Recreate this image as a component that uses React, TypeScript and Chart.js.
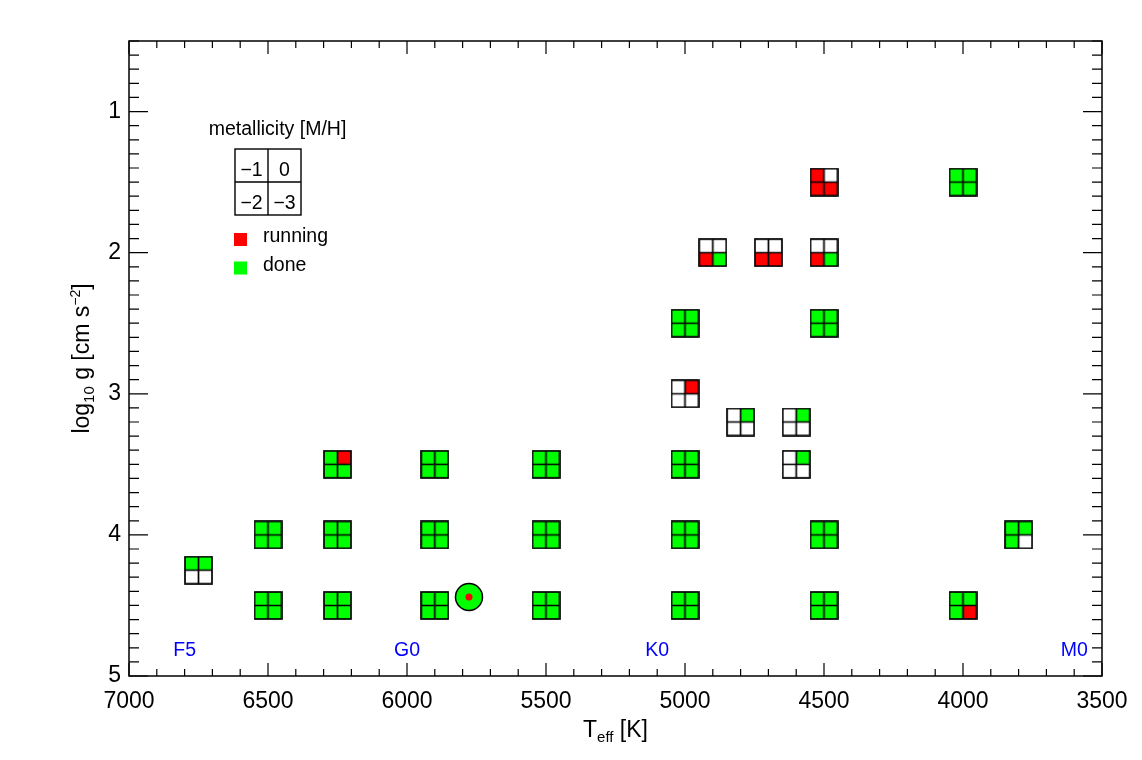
import React, { useEffect, useRef } from 'react';
import { Chart, registerables } from 'chart.js';

Chart.register(...registerables);

// ---- model grid (Teff [K], log g) ----
const teff = [4500, 4000, 4900, 4700, 4500, 5000, 4500, 5000, 4800, 4600, 6250, 5900, 5500, 5000, 4600, 6500, 6250, 5900, 5500, 5000, 4500, 3800, 6750, 6500, 6250, 5900, 5500, 5000, 4500, 4000];
const logg = [1.5, 1.5, 2.0, 2.0, 2.0, 2.5, 2.5, 3.0, 3.2, 3.2, 3.5, 3.5, 3.5, 3.5, 3.5, 4.0, 4.0, 4.0, 4.0, 4.0, 4.0, 4.0, 4.25, 4.5, 4.5, 4.5, 4.5, 4.5, 4.5, 4.5];
// status per metallicity: r = running, d = done, n = not started
const statusMm1 = ['r', 'd', 'n', 'n', 'n', 'd', 'd', 'n', 'n', 'n', 'd', 'd', 'd', 'd', 'n', 'd', 'd', 'd', 'd', 'd', 'd', 'd', 'd', 'd', 'd', 'd', 'd', 'd', 'd', 'd'];
const statusM0 = ['n', 'd', 'n', 'n', 'n', 'd', 'd', 'r', 'd', 'd', 'r', 'd', 'd', 'd', 'd', 'd', 'd', 'd', 'd', 'd', 'd', 'd', 'd', 'd', 'd', 'd', 'd', 'd', 'd', 'd'];
const statusMm2 = ['r', 'd', 'r', 'r', 'r', 'd', 'd', 'n', 'n', 'n', 'd', 'd', 'd', 'd', 'n', 'd', 'd', 'd', 'd', 'd', 'd', 'd', 'n', 'd', 'd', 'd', 'd', 'd', 'd', 'd'];
const statusMm3 = ['r', 'd', 'd', 'r', 'd', 'd', 'd', 'n', 'n', 'n', 'd', 'd', 'd', 'd', 'n', 'd', 'd', 'd', 'd', 'd', 'd', 'n', 'n', 'd', 'd', 'd', 'd', 'd', 'd', 'r'];

// the Sun
const sunTeff = [5777];
const sunLogg = [4.44];

// axes
const xTicks = [7000, 6500, 6000, 5500, 5000, 4500, 4000, 3500];
const yTicks = [1, 2, 3, 4, 5];
const xRange = [3500, 7000];
const yRange = [0.5, 5];

// spectral type annotations
const specTypes = ['F5', 'G0', 'K0', 'M0'];
const specTeff = [6800, 6000, 5100, 3600];

// legend
const metalLabels = ['\u22121', '0', '\u22122', '\u22123'];
const legendItems = ['running', 'done'];

const COLORS: Record<string, string> = { r: '#ff0000', d: '#00ff00', n: '#ffffff' };
const FONT = '"Liberation Sans", Arial, Helvetica, sans-serif';

function makeMarker(tl: string, tr: string, bl: string, br: string) {
  const c = document.createElement('canvas');
  c.width = 29;
  c.height = 29;
  const ctx = c.getContext('2d')!;
  const o = 1;
  const s = 27;
  const h = 13.5;
  ctx.fillStyle = COLORS[tl];
  ctx.fillRect(o, o, h, h);
  ctx.fillStyle = COLORS[tr];
  ctx.fillRect(o + h, o, h, h);
  ctx.fillStyle = COLORS[bl];
  ctx.fillRect(o, o + h, h, h);
  ctx.fillStyle = COLORS[br];
  ctx.fillRect(o + h, o + h, h, h);
  ctx.strokeStyle = '#000';
  ctx.lineWidth = 1.7;
  ctx.strokeRect(o, o, s, s);
  ctx.beginPath();
  ctx.moveTo(o + h, o);
  ctx.lineTo(o + h, o + s);
  ctx.moveTo(o, o + h);
  ctx.lineTo(o + s, o + h);
  ctx.stroke();
  return c;
}

function drawParts(ctx: CanvasRenderingContext2D, parts: { t: string; size: number; dy: number }[], cx: number, cy: number) {
  let total = 0;
  for (const p of parts) {
    ctx.font = `${p.size}px ${FONT}`;
    total += ctx.measureText(p.t).width;
  }
  let x = cx - total / 2;
  ctx.textAlign = 'left';
  ctx.textBaseline = 'alphabetic';
  for (const p of parts) {
    ctx.font = `${p.size}px ${FONT}`;
    ctx.fillText(p.t, x, cy + p.dy);
    x += ctx.measureText(p.t).width;
  }
}

const decorPlugin = {
  id: 'decor',
  afterDraw(chart: any) {
    const { ctx, chartArea: a, scales } = chart;
    const xs = scales.x;
    const ys = scales.y;
    ctx.save();
    ctx.strokeStyle = '#000';
    ctx.lineWidth = 1.2;
    ctx.beginPath();
    for (let k = 35; k <= 70; k++) {
      const v = k * 100;
      const major = xTicks.includes(v);
      const len = major ? 13 : 7;
      const px = xs.getPixelForValue(v);
      ctx.moveTo(px, a.bottom);
      ctx.lineTo(px, a.bottom - len);
      ctx.moveTo(px, a.top);
      ctx.lineTo(px, a.top + len);
    }
    for (let k = 5; k <= 50; k++) {
      const v = k / 10;
      const major = k % 10 === 0;
      const len = major ? 19 : 10;
      const py = ys.getPixelForValue(v);
      ctx.moveTo(a.left, py);
      ctx.lineTo(a.left + len, py);
      ctx.moveTo(a.right, py);
      ctx.lineTo(a.right - len, py);
    }
    ctx.stroke();
    ctx.lineWidth = 1.5;
    ctx.strokeRect(a.left, a.top, a.right - a.left, a.bottom - a.top);

    ctx.fillStyle = '#000';
    // x title
    drawParts(
      ctx,
      [
        { t: 'T', size: 23, dy: 0 },
        { t: 'eff', size: 15, dy: 5 },
        { t: ' [K]', size: 23, dy: 0 },
      ],
      (a.left + a.right) / 2,
      737
    );
    // y title
    ctx.save();
    ctx.translate(88.5, (a.top + a.bottom) / 2);
    ctx.rotate(-Math.PI / 2);
    drawParts(
      ctx,
      [
        { t: 'log', size: 23, dy: 0 },
        { t: '10', size: 15, dy: 5 },
        { t: ' g [cm s', size: 23, dy: 0 },
        { t: '\u22122', size: 14, dy: -9 },
        { t: ']', size: 23, dy: 0 },
      ],
      0,
      0
    );
    ctx.restore();

    // spectral types
    ctx.fillStyle = '#0000ff';
    ctx.font = `19.5px ${FONT}`;
    ctx.textAlign = 'center';
    ctx.textBaseline = 'alphabetic';
    specTypes.forEach((s, i) => {
      ctx.fillText(s, xs.getPixelForValue(specTeff[i]), a.bottom - 20);
    });

    // legend
    ctx.fillStyle = '#000';
    ctx.font = `19.5px ${FONT}`;
    ctx.textAlign = 'center';
    ctx.fillText('metallicity [M/H]', 277.5, 135);
    const bx = 235;
    const by = 149;
    const bs = 66;
    ctx.lineWidth = 1.4;
    ctx.strokeRect(bx, by, bs, bs);
    ctx.beginPath();
    ctx.moveTo(bx + bs / 2, by);
    ctx.lineTo(bx + bs / 2, by + bs);
    ctx.moveTo(bx, by + bs / 2);
    ctx.lineTo(bx + bs, by + bs / 2);
    ctx.stroke();
    metalLabels.forEach((m, i) => {
      const col = i % 2;
      const row = Math.floor(i / 2);
      ctx.fillText(m, bx + bs / 4 + (col * bs) / 2, by + 26.5 + (row * bs) / 2);
    });
    const sw = [COLORS.r, COLORS.d];
    ctx.textAlign = 'left';
    legendItems.forEach((t, i) => {
      ctx.fillStyle = sw[i];
      ctx.fillRect(234, 233 + i * 28.5, 13, 13);
      ctx.fillStyle = '#000';
      ctx.fillText(t, 263, 242 + i * 28.5);
    });
    ctx.restore();
  },
};

export default function App() {
  const ref = useRef<HTMLCanvasElement>(null);
  useEffect(() => {
    const canvas = ref.current!;
    const markers = teff.map((_, i) => makeMarker(statusMm1[i], statusM0[i], statusMm2[i], statusMm3[i]));
    const hidden = { display: false, drawTicks: false };
    const chart = new Chart(canvas, {
      type: 'scatter',
      data: {
        datasets: [
          {
            data: teff.map((t, i) => ({ x: t, y: logg[i] })),
            pointStyle: markers as any,
            pointRadius: 14,
            pointHoverRadius: 14,
            order: 2,
          },
          {
            data: sunTeff.map((t, i) => ({ x: t, y: sunLogg[i] })),
            pointStyle: 'circle',
            pointRadius: 3.5,
            backgroundColor: '#ff0000',
            borderColor: '#ff0000',
            borderWidth: 0,
            order: 0,
          },
          {
            data: sunTeff.map((t, i) => ({ x: t, y: sunLogg[i] })),
            pointStyle: 'circle',
            pointRadius: 13.5,
            backgroundColor: '#00ff00',
            borderColor: '#000',
            borderWidth: 1.5,
            order: 1,
          },
        ],
      },
      options: {
        responsive: false,
        animation: false,
        events: [],
        layout: { padding: 0 },
        plugins: { legend: { display: false }, tooltip: { enabled: false } },
        scales: {
          x: {
            type: 'linear',
            position: 'bottom',
            reverse: true,
            min: xRange[0],
            max: xRange[1],
            afterBuildTicks: (s: any) => {
              s.ticks = xTicks.map((v) => ({ value: v }));
            },
            afterFit: (s: any) => {
              s.height = 84;
            },
            grid: hidden,
            border: { display: false },
            ticks: {
              font: { family: FONT, size: 23 },
              color: '#000',
              padding: 12,
              maxRotation: 0,
              autoSkip: false,
              callback: (v: any) => String(v),
            },
          },
          x2: {
            type: 'linear',
            position: 'top',
            reverse: true,
            min: xRange[0],
            max: xRange[1],
            afterFit: (s: any) => {
              s.height = 41;
            },
            grid: hidden,
            border: { display: false },
            ticks: { display: false },
          },
          y: {
            type: 'linear',
            position: 'left',
            reverse: true,
            min: yRange[0],
            max: yRange[1],
            afterBuildTicks: (s: any) => {
              s.ticks = yTicks.map((v) => ({ value: v }));
            },
            afterFit: (s: any) => {
              s.width = 129;
            },
            grid: hidden,
            border: { display: false },
            ticks: {
              font: { family: FONT, size: 23 },
              color: '#000',
              padding: 8,
              callback: (v: any) => String(v),
            },
          },
          y2: {
            type: 'linear',
            position: 'right',
            reverse: true,
            min: yRange[0],
            max: yRange[1],
            afterFit: (s: any) => {
              s.width = 40;
            },
            grid: hidden,
            border: { display: false },
            ticks: { display: false },
          },
        },
      } as any,
      plugins: [decorPlugin],
    });
    return () => chart.destroy();
  }, []);
  return (
    <div style={{ position: 'fixed', left: 0, top: 0, width: 1142, height: 760, background: '#fff' }}>
      <canvas ref={ref} width={1142} height={760} style={{ display: 'block' }} />
    </div>
  );
}
